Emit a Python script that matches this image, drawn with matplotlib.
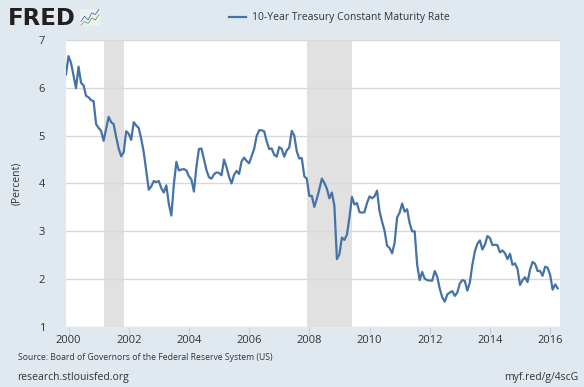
import numpy as np
import matplotlib.pyplot as plt

plt.rcParams['font.family'] = ['Open Sans', 'DejaVu Sans']

# 10-Year Treasury Constant Maturity Rate, monthly, Dec 1999 - Apr 2016
start_year, start_month = 1999, 12
rate = [
    6.28,
    6.66, 6.52, 6.26, 5.99, 6.44, 6.10, 6.05, 5.83, 5.80, 5.74, 5.72, 5.24,
    5.16, 5.10, 4.89, 5.14, 5.39, 5.28, 5.24, 4.97, 4.73, 4.57, 4.65, 5.09,
    5.04, 4.91, 5.28, 5.21, 5.16, 4.93, 4.65, 4.26, 3.87, 3.94, 4.05, 4.03,
    4.05, 3.90, 3.81, 3.96, 3.57, 3.33, 3.98, 4.45, 4.27, 4.29, 4.30, 4.27,
    4.15, 4.08, 3.83, 4.35, 4.72, 4.73, 4.50, 4.28, 4.13, 4.10, 4.19, 4.23,
    4.22, 4.17, 4.50, 4.34, 4.14, 4.00, 4.18, 4.26, 4.20, 4.46, 4.54, 4.47,
    4.42, 4.57, 4.72, 4.99, 5.11, 5.11, 5.09, 4.88, 4.72, 4.73, 4.60, 4.56,
    4.76, 4.72, 4.56, 4.69, 4.75, 5.10, 5.00, 4.67, 4.52, 4.53, 4.15, 4.10,
    3.74, 3.74, 3.51, 3.68, 3.88, 4.10, 4.01, 3.89, 3.69, 3.81, 3.53, 2.42,
    2.52, 2.87, 2.82, 2.93, 3.29, 3.72, 3.56, 3.59, 3.40, 3.39, 3.40, 3.59,
    3.73, 3.69, 3.73, 3.85, 3.42, 3.20, 3.01, 2.70, 2.65, 2.54, 2.76, 3.29,
    3.39, 3.58, 3.41, 3.46, 3.17, 3.00, 3.00, 2.30, 1.98, 2.15, 2.01, 1.98,
    1.97, 1.97, 2.17, 2.05, 1.80, 1.62, 1.53, 1.68, 1.72, 1.75, 1.65, 1.72,
    1.91, 1.98, 1.96, 1.76, 1.93, 2.30, 2.58, 2.74, 2.81, 2.62, 2.72, 2.90,
    2.86, 2.71, 2.72, 2.71, 2.56, 2.60, 2.54, 2.42, 2.53, 2.30, 2.33, 2.21,
    1.88, 1.98, 2.04, 1.94, 2.20, 2.36, 2.32, 2.17, 2.17, 2.07, 2.26, 2.24,
    2.09, 1.78, 1.89, 1.81,
]
# recessions (start, end) as decimal years
recessions = [(2001 + 2/12, 2001 + 10/12), (2007 + 11/12, 2009 + 5/12)]
year_ticks = list(range(2000, 2017, 2))
y_ticks = [1, 2, 3, 4, 5, 6, 7]

x = start_year + (start_month - 1) / 12 + np.arange(len(rate)) / 12

bg = '#e1e9f0'
fig = plt.figure(figsize=(5.84, 3.87), dpi=100, facecolor=bg)
ax = fig.add_axes([0.113, 0.155, 0.846, 0.742])
ax.set_facecolor('white')

for r0, r1 in recessions:
    ax.axvspan(r0, r1, color='#e1e1e1', lw=0, zorder=0)

ax.plot(x, rate, color='#4572a7', lw=1.6, zorder=3)

ax.set_xlim(x[0], 2016.33)
ax.set_ylim(1, 7)
ax.set_yticks(y_ticks)
ax.set_xticks(year_ticks)
ax.yaxis.grid(True, color='#d8d8d8', lw=1)
ax.set_axisbelow(True)
for s in ax.spines.values():
    s.set_visible(False)
ax.tick_params(axis='y', length=0, pad=15, labelsize=8, labelcolor='#333333')
ax.tick_params(axis='x', length=5, color='#c0d0e0', labelsize=8,
               labelcolor='#333333', pad=1)
ax.set_ylabel('(Percent)', fontsize=7.5, color='#333333', labelpad=12)

# header
fig.text(0.013, 0.952, 'FRED', fontsize=16.5, fontweight='bold', family='DejaVu Sans',
         color='#231f20', va='center', ha='left')
icon = fig.add_axes([0.137, 0.933, 0.034, 0.045])
icon.set_facecolor('#eef1f3')
icon.plot([0, 1, 2, 3, 4, 5], [0.3, 0.6, 0.4, 0.8, 0.7, 1.0], color='#4572a7', lw=0.6)
icon.plot([0, 1, 2, 3, 4, 5], [0.1, 0.3, 0.2, 0.5, 0.4, 0.7], color='#6aa84f', lw=0.6)
icon.set_xticks([]); icon.set_yticks([])
for s in icon.spines.values():
    s.set_visible(False)

fig.lines.append(plt.Line2D([0.392, 0.421], [0.955, 0.955], color='#4572a7',
                            lw=1.6, transform=fig.transFigure))
fig.text(0.432, 0.955, '10-Year Treasury Constant Maturity Rate', fontsize=7.5,
         color='#333333', va='center', ha='left')

# footer
fig.text(0.03, 0.077, 'Source: Board of Governors of the Federal Reserve System (US)',
         fontsize=6.2, color='#333333', va='center')
fig.text(0.03, 0.025, 'research.stlouisfed.org', fontsize=7.5,
         color='#333333', va='center')
fig.text(0.99, 0.025, 'myf.red/g/4scG', fontsize=7.5, color='#333333',
         va='center', ha='right')

fig.savefig('out.png', dpi=100, facecolor=bg)
